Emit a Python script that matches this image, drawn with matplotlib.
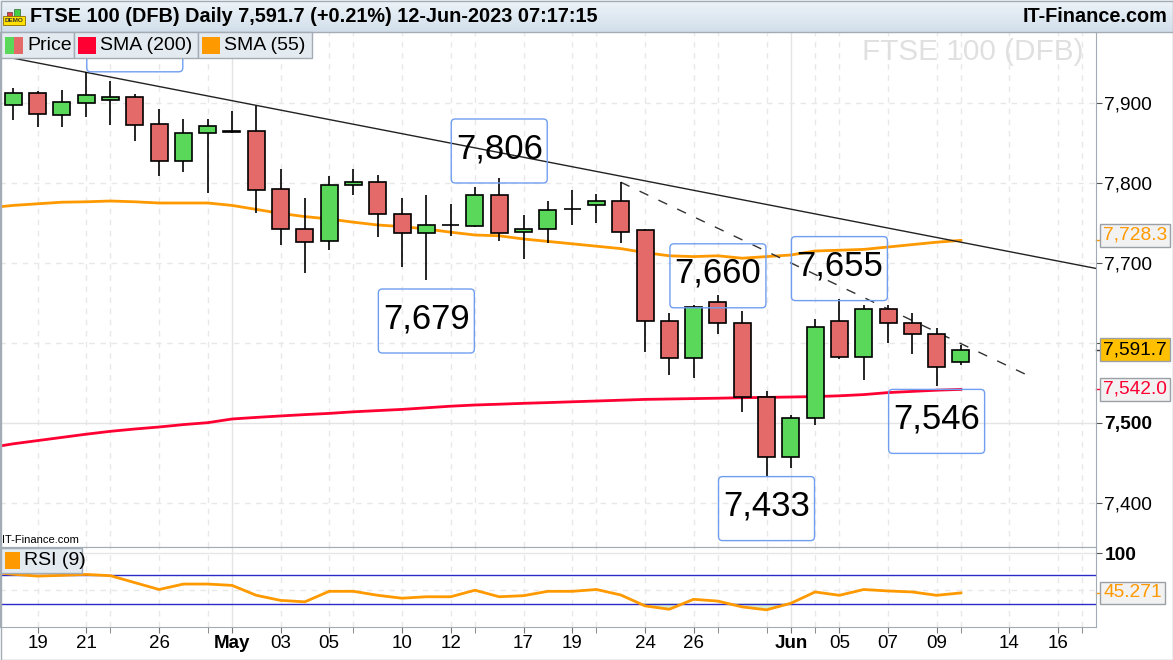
"""
FTSE 100 (DFB) dagsgraf med SMA(200), SMA(55) og RSI(9)
Gjenskaping av et IT-Finance-skjermbilde med matplotlib
"""

import numpy as np
import pandas as pd
import matplotlib

matplotlib.use("Agg")
import matplotlib.pyplot as plt
from matplotlib.patches import Rectangle, FancyBboxPatch
from matplotlib.colors import LinearSegmentedColormap

plt.rcParams["font.family"] = ["Liberation Sans", "DejaVu Sans"]

# ============================================================================
# DATA
# ============================================================================

START = "2023-04-18"
candle_dates = pd.bdate_range(START, "2023-06-12")
line_dates = pd.bdate_range("2023-04-17", "2023-06-12")  # SMA/RSI starter en dag tidligere

opens = [7898, 7913, 7885, 7900, 7904, 7907, 7874, 7827, 7862, 7864,
         7865, 7792, 7743, 7727, 7798, 7801, 7761, 7737, 7747, 7746,
         7785, 7738.5, 7742, 7767, 7772, 7778, 7741, 7628, 7581, 7651,
         7625, 7532, 7457, 7506, 7628, 7582, 7642, 7625, 7611, 7576]
highs = [7919, 7915, 7916, 7939, 7927, 7911, 7892, 7880, 7880, 7890,
         7896, 7818, 7781, 7809, 7817, 7810, 7781, 7785, 7774, 7795,
         7806, 7760, 7777, 7791, 7786, 7801, 7742, 7638, 7648, 7660,
         7640, 7540, 7510, 7630, 7655, 7648, 7648, 7638, 7619, 7597]
lows = [7879, 7870, 7870, 7883, 7873, 7853, 7809, 7814, 7787, 7862,
        7762, 7723, 7688, 7716, 7785, 7733, 7695, 7679, 7734, 7745,
        7727, 7705, 7725, 7747, 7750, 7725, 7589, 7560, 7556, 7611,
        7514, 7433, 7444, 7497, 7580, 7554, 7600, 7586, 7546, 7572]
closes = [7913, 7886, 7901, 7910, 7907, 7873, 7827, 7862, 7871, 7864.5,
          7791, 7743, 7726, 7797, 7801, 7761, 7737, 7748, 7747.5, 7785,
          7738, 7742.5, 7766, 7767.5, 7778, 7739, 7628, 7581, 7645, 7625,
          7532, 7457, 7506, 7620, 7582, 7642, 7625, 7611, 7570, 7591.7]

sma200 = [7469, 7474, 7478, 7482, 7486, 7489.6, 7492.5, 7495, 7498, 7500.4,
          7505, 7507, 7508.8, 7510.5, 7512, 7514, 7515.5, 7517, 7519, 7521,
          7522.5, 7523.5, 7524.6, 7525.5, 7526.5, 7527.5, 7528.5, 7529.5, 7530, 7530.5,
          7531, 7531.6, 7532, 7532.5, 7533, 7534, 7535.5, 7538, 7539.5, 7541, 7542]
sma55 = [7769, 7772, 7774, 7776, 7776.5, 7777.5, 7776.5, 7775, 7775, 7775,
         7772, 7767, 7762, 7758, 7755, 7751, 7747.5, 7745.5, 7742.5, 7738.5,
         7735, 7734, 7730, 7727, 7724, 7721, 7718, 7713, 7709, 7708,
         7709, 7706, 7708, 7710, 7715, 7716, 7717, 7720, 7723, 7726, 7728.3]
rsi9 = [74, 71, 68.5, 69.5, 70.8, 69, 59.5, 50, 57.5, 57.5,
        55.7, 42, 35, 33, 47.5, 47.5, 42, 38, 40, 40,
        49, 40, 41.5, 47.5, 47.5, 50, 42.5, 27.4, 22.8, 36.5,
        34, 26, 22, 31, 46.6, 42, 50, 48, 46.6, 42, 45.271]

# trendlinjer (dato, kurs)
trend_dates = ["2023-04-18", "2023-06-12"]
trend_prices = [7956, 7726]
dash_dates = ["2023-05-23", "2023-06-15"]
dash_prices = [7801, 7556]

# tekstbokser med niv√•er (den f√∏rste ligger skjult bak legenden, kun rammen synes)
label_dates = ["2023-04-25", "2023-05-16", "2023-05-11", "2023-05-29",
               "2023-06-05", "2023-06-09", "2023-05-31"]
label_prices = [7979, 7840, 7627.5, 7684, 7693, 7502, 7393]
label_texts = ["", "7,806", "7,679", "7,660", "7,655", "7,546", "7,433"]

# x-akse
tick_dates = ["2023-04-19", "2023-04-21", "2023-04-26", "2023-05-01", "2023-05-03",
              "2023-05-05", "2023-05-10", "2023-05-12", "2023-05-17", "2023-05-19",
              "2023-05-24", "2023-05-26", "2023-06-01", "2023-06-05", "2023-06-07",
              "2023-06-09", "2023-06-14", "2023-06-16"]
tick_texts = ["19", "21", "26", "May", "03", "05", "10", "12", "17", "19",
              "24", "26", "Jun", "05", "07", "09", "14", "16"]
minor_dates = ["2023-04-24", "2023-04-28", "2023-05-08", "2023-05-15", "2023-05-22",
               "2023-05-29", "2023-05-31", "2023-06-02", "2023-06-12", "2023-06-19"]
month_starts = ["2023-05-01", "2023-06-01"]

price_ticks = [7400, 7500, 7600, 7700, 7800, 7900]

# ============================================================================
# OPPSETT
# ============================================================================

W, H = 1173, 660
GREEN = "#5ad85a"
RED = "#e46a6a"
SMA200_COL = "#ff0033"
SMA55_COL = "#ff9900"
FRAME = "#a3acb4"


def day_pos(d):
    """Handelsdag-indeks relativt til f√∏rste candle"""
    return int(np.busday_count(START, pd.Timestamp(d).strftime("%Y-%m-%d")))


def px_box(left, top, right, bottom):
    """Pikselrektangel -> figurbr√∏k"""
    return [left / W, 1 - bottom / H, (right - left) / W, (bottom - top) / H]


fig = plt.figure(figsize=(W / 100, H / 100), dpi=100)
ax = fig.add_axes(px_box(0, 32, 1096, 547))
rsi_ax = fig.add_axes(px_box(0, 547, 1096, 627), sharex=ax)

XLIM = (-0.547, 44.56)
YLIM = (7345, 7988.75)
ax.set_xlim(*XLIM)
ax.set_ylim(*YLIM)

x_c = np.array([day_pos(d) for d in candle_dates])
x_l = np.array([day_pos(d) for d in line_dates])

# rutenett
grid_pos = [day_pos(d) for d in tick_dates + minor_dates]
month_pos = [day_pos(d) for d in month_starts]
for a in (ax, rsi_ax):
    for p in grid_pos:
        if p in month_pos:
            a.axvline(p, color="#e4e4e4", lw=1, zorder=0)
        else:
            a.axvline(p, color="#e8e8e8", lw=1, ls=(0, (4, 4)), zorder=0)
for p in price_ticks:
    if p == 7500:
        ax.axhline(p, color="#e4e4e4", lw=1, zorder=0)
    else:
        ax.axhline(p, color="#e8e8e8", lw=1, ls=(0, (4, 4)), zorder=0)

# ============================================================================
# HOVEDPANEL
# ============================================================================

o, hi, lo, c = map(np.array, (opens, highs, lows, closes))
up = c >= o
ax.vlines(x_c, lo, hi, color="black", lw=1.2, zorder=3)
ax.bar(x_c, np.maximum(np.abs(c - o), 0.6), bottom=np.minimum(o, c), width=0.7,
       color=np.where(up, GREEN, RED), edgecolor="black", lw=1.2, zorder=4)

ax.plot(x_l, sma200, color=SMA200_COL, lw=2, zorder=2)
ax.plot(x_l, sma55, color=SMA55_COL, lw=2, zorder=2)

ax.axline((day_pos(trend_dates[0]), trend_prices[0]),
          (day_pos(trend_dates[1]), trend_prices[1]), color="#222222", lw=1, zorder=2)
ax.plot([day_pos(d) for d in dash_dates], dash_prices, color="#333333", lw=1,
        ls=(0, (7, 8)), zorder=2)

# tekstbokser - runde hj√∏rner i piksler via mutation_aspect
px_x = 1096 / (XLIM[1] - XLIM[0])
px_y = 515 / (YLIM[1] - YLIM[0])
bw, bh = 96 / px_x, 64 / px_y
for d, p, t in zip(label_dates, label_prices, label_texts):
    xc = day_pos(d)
    ax.add_patch(FancyBboxPatch((xc - bw / 2, p - bh / 2), bw, bh,
                                boxstyle=f"round,pad=0,rounding_size={4 / px_x}",
                                mutation_aspect=px_x / px_y, fc="none",
                                ec="#6f9ef0", lw=1, zorder=6))
    if t:
        ax.text(xc, p + 3, t, fontsize=25, ha="center", va="center", zorder=7, clip_on=True)

# h√∏yre akse
ax.yaxis.tick_right()
ax.set_yticks(price_ticks)
ax.set_yticklabels(["" if p == 7600 else f"{p:,}" for p in price_ticks])
for lab, p in zip(ax.get_yticklabels(), price_ticks):
    if p == 7500:
        lab.set_fontweight("bold")
ax.tick_params(axis="y", direction="out", length=4, color="#555555", pad=2, labelsize=13.8)
ax.tick_params(axis="x", bottom=False, labelbottom=False)


def price_tag(axis, value, text, fc, tc, dy=0):
    axis.plot([1, 1.004], [value, value], transform=axis.get_yaxis_transform(),
              color=tc if tc != "black" else "#333333", lw=1, clip_on=False)
    axis.annotate(text, xy=(1, value), xycoords=("axes fraction", "data"),
                  xytext=(7, dy), textcoords="offset pixels", ha="left", va="center",
                  fontsize=13.8, color=tc, annotation_clip=False,
                  bbox=dict(boxstyle="square,pad=0.15", fc=fc, ec="#9aa0a6", lw=1))


price_tag(ax, sma55[-1], f"{sma55[-1]:,.1f}", "#f2f2f2", SMA55_COL, dy=5)
price_tag(ax, closes[-1], f"{closes[-1]:,.1f}", "#ffc000", "black")
price_tag(ax, sma200[-1], f"{sma200[-1]:,.1f}", "#f2f2f2", SMA200_COL)

# ============================================================================
# RSI-PANEL
# ============================================================================

rsi_ax.set_ylim(-1.7, 108.6)
rsi_ax.axhline(100, color="#e6e6e6", lw=1, zorder=0)
rsi_ax.axhline(50, color="#e8e8e8", lw=1, ls=(0, (4, 4)), zorder=0)
rsi_arr = np.array(rsi9)
rsi_ax.fill_between(x_l, rsi_arr, 30, where=rsi_arr < 30, interpolate=True,
                    color="#d9efd3", zorder=1)
rsi_ax.axhline(70, color="#2b2bc8", lw=1, zorder=2)
rsi_ax.axhline(30, color="#2b2bc8", lw=1, zorder=2)
rsi_ax.plot(x_l, rsi9, color=SMA55_COL, lw=2, zorder=3)

rsi_ax.yaxis.tick_right()
rsi_ax.set_yticks([100])
rsi_ax.set_yticklabels(["100"], fontweight="bold")
rsi_ax.tick_params(axis="y", direction="out", length=4, color="#555555", pad=2, labelsize=13.8)
price_tag(rsi_ax, rsi9[-1], f"{rsi9[-1]:.3f}", "#f2f2f2", SMA55_COL)

rsi_ax.set_xticks([day_pos(d) for d in tick_dates])
rsi_ax.set_xticklabels(tick_texts)
rsi_ax.set_xticks([day_pos(d) for d in minor_dates], minor=True)
for lab, t in zip(rsi_ax.get_xticklabels(), tick_texts):
    if t in ("May", "Jun"):
        lab.set_fontweight("bold")
rsi_ax.tick_params(axis="x", which="both", direction="out", length=4, color="#777777",
                   pad=2, labelsize=13.5)

for a in (ax, rsi_ax):
    for side in ("left", "right", "bottom", "top"):
        a.spines[side].set_color(FRAME)
ax.spines["top"].set_visible(False)

# ============================================================================
# TOPPLINJE, LEGENDER OG TEKST (pikselkoordinater)
# ============================================================================

over = fig.add_axes([0, 0, 1, 1])
over.set_zorder(10)
over.patch.set_visible(False)
over.axis("off")

cmap = LinearSegmentedColormap.from_list("hdr", ["#eef4f9", "#d2dfeb"])
over.imshow(np.linspace(0, 1, 32).reshape(-1, 1), cmap=cmap, extent=(0, W, 32, 0),
            aspect="auto", zorder=1)
over.plot([0, W], [32, 32], color=FRAME, lw=1, zorder=2)
over.set_xlim(0, W)
over.set_ylim(H, 0)

# DEMO-ikon
over.add_patch(Rectangle((7, 12), 5, 4, fc="#dd4444", ec="#663333", lw=0.5, zorder=3))
over.add_patch(Rectangle((14, 9), 6, 7, fc="#44cc44", ec="#336633", lw=0.5, zorder=3))
over.add_patch(Rectangle((3, 16), 22, 9, fc="#ffe000", ec="#8a6d00", lw=0.6, zorder=3))
over.text(14, 20.7, "DEMO", fontsize=4.6, fontweight="bold", color="#333333",
          ha="center", va="center", zorder=4)

over.text(30, 17, "FTSE 100 (DFB) Daily 7,591.7 (+0.21%) 12-Jun-2023 07:17:15",
          fontsize=14.3, fontweight="bold", ha="left", va="center", zorder=4)
over.text(1168, 17, "IT-Finance.com", fontsize=14.3, fontweight="bold",
          ha="right", va="center", zorder=4)

# legende hovedpanel
legend_boxes = [(0, 73.5), (73.5, 197.5), (197.5, 311.5)]
for l, r in legend_boxes:
    over.add_patch(Rectangle((l, 32), r - l, 26, fc="#e3eaf0", ec=FRAME, lw=1, zorder=3))
over.add_patch(Rectangle((5, 37), 9, 17, fc=GREEN, lw=0, zorder=4))
over.add_patch(Rectangle((14, 37), 9, 17, fc=RED, lw=0, zorder=4))
over.add_patch(Rectangle((78, 37), 18, 17, fc=SMA200_COL, lw=0, zorder=4))
over.add_patch(Rectangle((202, 37), 18, 17, fc=SMA55_COL, lw=0, zorder=4))
over.text(27, 45.5, "Price", fontsize=14, va="center", zorder=5)
over.text(100, 45.5, "SMA (200)", fontsize=14, va="center", zorder=5)
over.text(224, 45.5, "SMA (55)", fontsize=14, va="center", zorder=5)

# vannmerke
over.text(1083, 52, "FTSE 100 (DFB)", fontsize=21.4, color="#e0e0e0",
          ha="right", va="center", zorder=1)

# RSI-legende
over.text(2, 540, "IT-Finance.com", fontsize=8, ha="left", va="center", zorder=5)
over.add_patch(Rectangle((0, 548), 82, 25, fc="#e3eaf0", ec=FRAME, lw=1, zorder=3))
over.add_patch(Rectangle((5, 552), 15, 17, fc=SMA55_COL, lw=0, zorder=4))
over.text(24, 560.5, "RSI (9)", fontsize=14, va="center", zorder=5)

# ytre ramme
over.add_patch(Rectangle((0.5, 0.5), W - 1, H - 1, fill=False, ec=FRAME, lw=1, zorder=6))

fig.savefig("out.png", dpi=100)
